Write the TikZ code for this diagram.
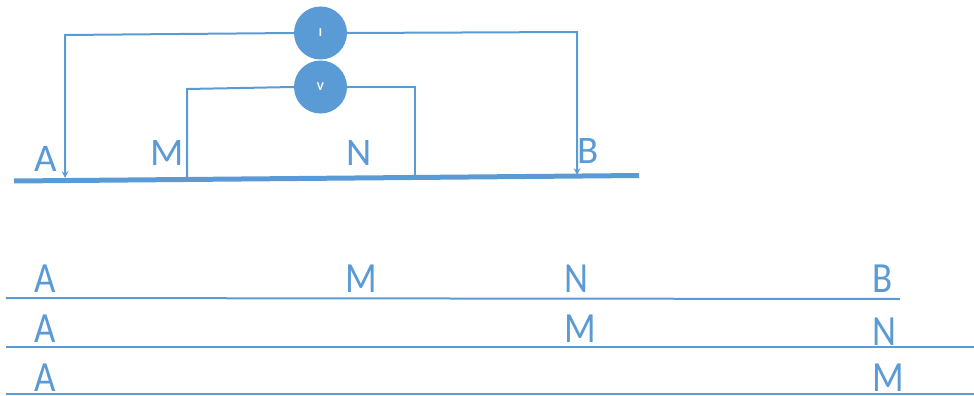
\documentclass[tikz,border=0pt]{standalone}
\usepackage{fontspec}
\setmainfont{Carlito}
\usetikzlibrary{calc}

\begin{document}
\begin{tikzpicture}[x=1pt,y=-1pt]
        %%init
        \definecolor{wire_color}{RGB}{91,155,213}
        \tikzset{wire/.style = {draw=wire_color, line width=2pt}}
        \tikzset{ground/.style = {draw=wire_color, line width=5pt}}
        \tikzset{meter/.style = {circle, fill=wire_color, inner sep=0, minimum size=53pt, text=white, font=\fontsize{12}{12}\selectfont\bfseries}}
        \tikzset{letter/.style = {inner sep=0, text=wire_color, font=\fontsize{39}{39}\selectfont}}
        \tikzset{letterlow/.style = {letter, font=\fontsize{43}{43}\selectfont, xscale=.86, transform shape}}
        \useasboundingbox (0,0) rectangle (974,396);

        %%wire corners
        \coordinate (Atop) at (65,35);
        \coordinate (Afoot) at (65,178);
        \coordinate (Btop) at (577,32);
        \coordinate (Bfoot) at (577,175);
        \coordinate (Mtop) at (187,89);
        \coordinate (Mfoot) at (187,178);
        \coordinate (Ntop) at (415,87);
        \coordinate (Nfoot) at (415,176);

        %%ends of the lines
        \coordinate (G0) at (14,181);
        \coordinate (G1) at (639,175.5);
        \coordinate (L0) at (6,298);
        \coordinate (L1) at (900,299);
        \coordinate (P0) at (6,347);
        \coordinate (P1) at (974,347);
        \coordinate (Q0) at (6,394);
        \coordinate (Q1) at (974,394);

        %%meters
        \node[meter] (I) at (320.5,33) {I};
        \node[meter] (V) at (320.5,87) {V};

        %%wires
        \draw[ground] (G0)--(G1);
        \draw[wire,>=stealth,->] (I.west)--(Atop)--(Afoot);
        \draw[wire,>=stealth,->] (I.east)--(Btop)--(Bfoot);
        \draw[wire] (V.west)--(Mtop)--(Mfoot);
        \draw[wire] (V.east)--(Ntop)--(Nfoot);

        %%top labels
        \node[letter] (a) at (46,159) {A};
        \node[letter] (m) at (167,153) {M};
        \node[letter] (n) at (359,153) {N};
        \node[letter] (b) at (588,151) {B};

        %%lower lines
        \draw[wire] (L0)--(L1);
        \draw[wire] (P0)--(P1);
        \draw[wire] (Q0)--(Q1);

        %%lower labels
        \node[letterlow] (a1) at (45,279) {A};
        \node[letterlow] (m1) at (361.5,279) {M};
        \node[letterlow] (n1) at (576.5,279) {N};
        \node[letterlow] (b1) at (883,279) {B};
        \node[letterlow] (a2) at (45,329) {A};
        \node[letterlow] (m2) at (580.5,329) {M};
        \node[letterlow] (n2) at (884,332) {N};
        \node[letterlow] (a3) at (45,378) {A};
        \node[letterlow] (m3) at (888.5,378) {M};
\end{tikzpicture}
\end{document}
